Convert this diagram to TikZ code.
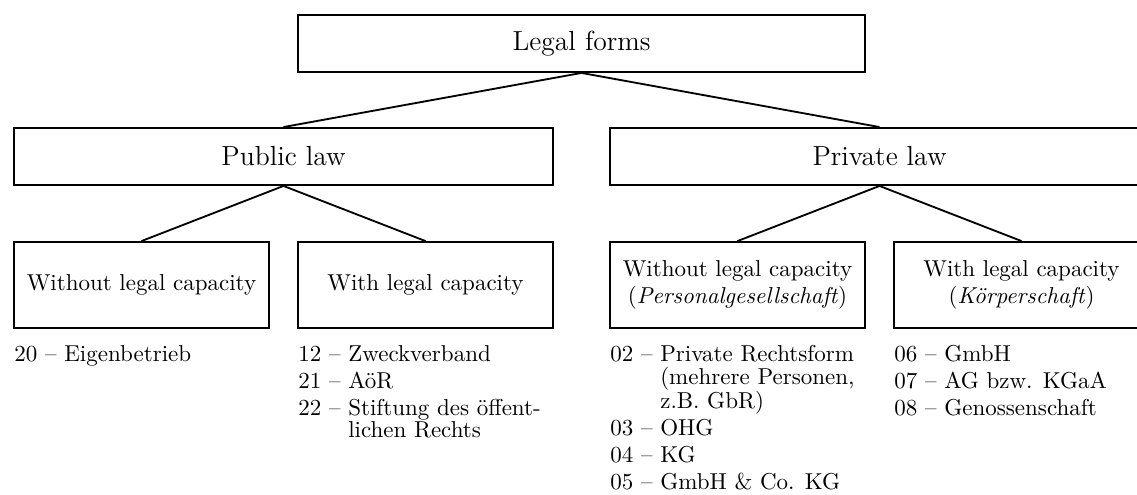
\documentclass[tikz,border=0pt]{standalone}
\usepackage{array}
\begin{document}
\begin{tikzpicture}[x=0.43478pt,y=-0.43478pt,
  box/.style={draw, line width=0.8pt, rectangle, inner sep=0pt, align=center},
  topbox/.style={box, minimum height=24.8pt, font=\large},
  leafbox/.style={box, minimum width=110.9pt, minimum height=37.4pt},
  conn/.style={line width=0.8pt},
  list/.style={anchor=base west, inner sep=0pt, align=left, font=\fontsize{10}{9.2}\selectfont}]
\clip (0,0) rectangle (1137,494);
\node[topbox, minimum width=246.6pt] (legal) at (581.5,43.5) {Legal forms};
\node[topbox, minimum width=234.3pt] (pub) at (283.5,156.5) {Public law};
\node[topbox, minimum width=234.3pt] (priv) at (879.5,156.5) {Private law};
\node[leafbox] (pubA) at (141.5,285) {Without legal capacity};
\node[leafbox] (pubB) at (425.5,285) {With legal capacity};
\node[leafbox] (privA) at (737.5,285) {Without legal capacity\\(\textit{Personalgesellschaft})};
\node[leafbox] (privB) at (1021.5,285) {With legal capacity\\(\textit{Körperschaft})};
\draw[conn] (legal.south) -- (pub.north);
\draw[conn] (legal.south) -- (priv.north);
\draw[conn] (pub.south) -- (pubA.north);
\draw[conn] (pub.south) -- (pubB.north);
\draw[conn] (priv.south) -- (privA.north);
\draw[conn] (priv.south) -- (privB.north);
\node[list] (listA) at (14,361) {\begin{tabular}[t]{@{}l@{~}l@{}}20 –& Eigenbetrieb\end{tabular}};
\node[list] (listB) at (298,361) {\begin{tabular}[t]{@{}l@{~}l@{}}12 –& Zweckverband\\[2pt]
21 –& AöR\\[2pt]
22 –& Stiftung des öffent-\\
& lichen Rechts\end{tabular}};
\node[list] (listC) at (610,361) {\begin{tabular}[t]{@{}l@{~}l@{}}02 –& Private Rechtsform\\
& (mehrere Personen,\\
& z.B. GbR)\\[2pt]
03 –& OHG\\[2pt]
04 –& KG\\[2pt]
05 –& GmbH \& Co. KG\end{tabular}};
\node[list] (listD) at (894,361) {\begin{tabular}[t]{@{}l@{~}l@{}}06 –& GmbH\\[2pt]
07 –& AG bzw. KGaA\\[2pt]
08 –& Genossenschaft\end{tabular}};
\end{tikzpicture}
\end{document}
